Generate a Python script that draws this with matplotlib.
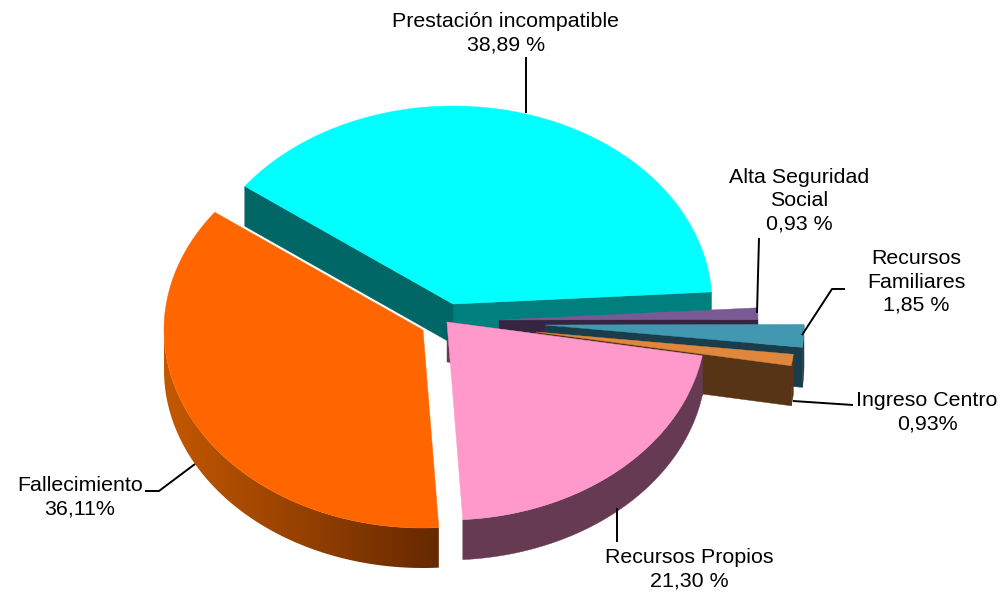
import numpy as np
import matplotlib
matplotlib.use('Agg')
import matplotlib.pyplot as plt
from matplotlib.colors import to_rgb
from matplotlib.patches import Polygon

plt.rcParams['font.family'] = ['Liberation Sans', 'DejaVu Sans']

# Data, counter-clockwise from the start angle
categories = ['Prestación incompatible', 'Fallecimiento', 'Recursos Propios',
              'Ingreso Centro', 'Recursos\nFamiliares', 'Alta Seguridad\nSocial']
values = [38.89, 36.11, 21.30, 0.93, 1.85, 0.93]
value_labels = ['38,89 %', '36,11%', '21,30 %', '0,93%', '1,85 %', '0,93 %']

# Pie geometry in pixels
start_angle = 3.5
rx, ry = 259, 198
depth = 40
centers = [(453, 304), (423, 330), (447, 322), (536, 332), (545, 325), (499, 320)]

top_colors = ['#00FFFF', '#FF6600', '#FF99CC', '#E1873C', '#4198B0', '#7A5A94']
cut_colors = [('#007F7F', '#006666'), (None, None), (None, '#663A52'),
              ('#583417', None), ('#1A3D4B', None), ('#352543', None)]
rim_colors = [None, ('#C45800', '#662900'), ('#663A52', '#663A52'),
              ('#583417', '#583417'), ('#1A3D4B', '#1A3D4B'), ('#352543', '#352543')]

# x, y of the text block and the leader line of each slice
text_pos = [(506, 33), (80, 497), (689, 569), (927, 412), (916, 282), (799, 201)]
leaders = [[(526, 57), (526, 113)],
           [(145, 491), (159, 491), (195, 464)],
           [(617, 508), (617, 542)],
           [(853, 405), (793, 401)],
           [(845, 289), (832, 289), (802, 335)],
           [(759, 238), (757, 313)]]


def rim_xy(center, t):
    t = np.radians(t)
    # screen y grows downwards, so the angle is flipped
    return center[0] + rx * np.cos(t), center[1] - ry * np.sin(t)


def draw_cut(ax, center, t, color, z):
    x, y = rim_xy(center, t)
    ax.fill([center[0], x, x, center[0]],
            [center[1], y, y + depth, center[1] + depth],
            color=color, lw=0.3, zorder=z)


def draw_rim(ax, center, t0, t1, colors, z):
    # only the front half of the rim can be seen
    lo = max(t0, 180)
    hi = min(t1, 360)
    if hi <= lo:
        return
    ts = np.linspace(lo, hi, 200)
    xs, ys = rim_xy(center, ts)
    verts = np.r_[np.c_[xs, ys], np.c_[xs[::-1], ys[::-1] + depth]]
    if colors[0] == colors[1]:
        ax.add_patch(Polygon(verts, color=colors[0], lw=0.3, zorder=z))
        return
    # horizontal gradient, clipped to the rim outline
    c0, c1 = np.array(to_rgb(colors[0])), np.array(to_rgb(colors[1]))
    grad = np.linspace(0, 1, 256)[None, :, None] * (c1 - c0) + c0
    im = ax.imshow(grad, extent=(xs.min(), xs.max(), ys.max() + depth, ys.min()),
                   aspect='auto', zorder=z, interpolation='bilinear')
    clip = Polygon(verts, transform=ax.transData, fc='none', ec='none')
    ax.add_patch(clip)
    im.set_clip_path(clip)


fig = plt.figure(figsize=(10.03, 5.93), dpi=100)
ax = fig.add_axes([0, 0, 1, 1])

angles = np.array(values) / 100 * 360
ends = start_angle + np.cumsum(angles)
starts = ends - angles

# back to front
order = [0, 5, 4, 3, 1, 2]
for n, i in enumerate(order):
    z = 2 + n
    c = centers[i]
    t0, t1 = starts[i], ends[i]
    if cut_colors[i][0]:
        draw_cut(ax, c, t0, cut_colors[i][0], z)
    if cut_colors[i][1]:
        draw_cut(ax, c, t1, cut_colors[i][1], z)
    if rim_colors[i]:
        draw_rim(ax, c, t0, t1, rim_colors[i], z)
    ts = np.linspace(t0, t1, 200)
    xs, ys = rim_xy(c, ts)
    ax.fill(np.r_[c[0], xs], np.r_[c[1], ys], color=top_colors[i], lw=0.3, zorder=z)

for i in range(len(categories)):
    pts = np.array(leaders[i])
    ax.plot(pts[:, 0], pts[:, 1], color='black', lw=1.4, zorder=10,
            solid_capstyle='butt')
    ax.text(text_pos[i][0], text_pos[i][1], categories[i] + '\n' + value_labels[i],
            ha='center', va='center', fontsize=15.4, color='black',
            linespacing=1.28, zorder=11)

ax.set_xlim(0, 1003)
ax.set_ylim(593, 0)
ax.axis('off')

fig.savefig('out.png', dpi=100)
